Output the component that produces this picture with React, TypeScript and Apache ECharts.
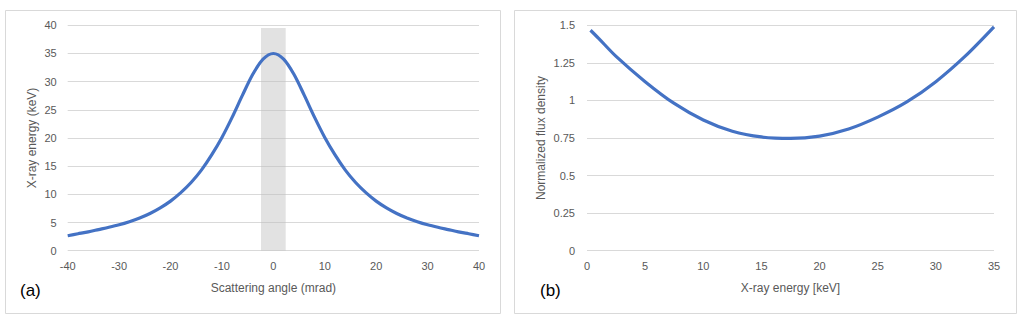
import React, { useEffect, useRef } from "react";
import * as echarts from "echarts";

// Panel (a): X-ray energy vs scattering angle
const angleMrad = [-40, -38, -36, -34, -32, -30, -28, -26, -24, -22, -20, -18, -16, -14, -12, -10, -8, -6, -4, -2, 0, 2, 4, 6, 8, 10, 12, 14, 16, 18, 20, 22, 24, 26, 28, 30, 32, 34, 36, 38, 40];
const energyKeV = [2.65, 3.0, 3.35, 3.75, 4.15, 4.6, 5.15, 5.8, 6.6, 7.6, 8.8, 10.3, 12.1, 14.3, 17.0, 20.1, 23.7, 27.6, 31.3, 34.0, 35, 34.0, 31.3, 27.6, 23.7, 20.1, 17.0, 14.3, 12.1, 10.3, 8.8, 7.6, 6.6, 5.8, 5.15, 4.6, 4.15, 3.75, 3.35, 3.0, 2.65];
const bandAngle = [-2.4, 2.4];
const bandTop = 39.5;

// Panel (b): normalized flux density vs X-ray energy
const energyB = [0.3, 1, 2.5, 5, 7.5, 10, 12.5, 15, 17.5, 20, 22.5, 25, 27.5, 30, 32.5, 35];
const fluxB = [1.467, 1.413, 1.293, 1.125, 0.98, 0.87, 0.795, 0.757, 0.747, 0.763, 0.81, 0.889, 0.99, 1.125, 1.293, 1.49];

const FONT = "'Liberation Sans', Arial, sans-serif";
const TXT = "#595959";
const GRIDC = "#d9d9d9";
const BLUE = "#4472C4";

export default function App() {
  const ref = useRef<HTMLDivElement>(null);
  useEffect(() => {
    if (!ref.current) return;
    const chart = echarts.init(ref.current, undefined, { renderer: "svg" });
    const axisLabel = { color: TXT, fontSize: 11, fontFamily: FONT };
    const nameStyle = { color: TXT, fontSize: 12, fontFamily: FONT };
    chart.setOption({
      animation: false,
      backgroundColor: "#fff",
      textStyle: { fontFamily: FONT },
      graphic: [
        { type: "rect", shape: { x: 5.5, y: 10.5, width: 495, height: 303 }, style: { fill: "none", stroke: GRIDC, lineWidth: 1 }, z: 0 },
        { type: "rect", shape: { x: 514.5, y: 10.5, width: 502, height: 303 }, style: { fill: "none", stroke: GRIDC, lineWidth: 1 }, z: 0 },
        { type: "text", left: 20, top: 282, style: { text: "(a)", fill: "#000", fontSize: 17, fontFamily: FONT } },
        { type: "text", left: 540, top: 282, style: { text: "(b)", fill: "#000", fontSize: 17, fontFamily: FONT } },
      ],
      grid: [
        { left: 67.7, top: 25.3, width: 411.3, height: 225.4 },
        { left: 587, top: 25.3, width: 407, height: 225.4 },
      ],
      xAxis: [
        {
          gridIndex: 0, type: "value", min: -40, max: 40, interval: 10,
          name: "Scattering angle (mrad)", nameLocation: "middle", nameGap: 31, nameTextStyle: nameStyle,
          axisLine: { show: false }, axisTick: { show: false }, splitLine: { show: false },
          axisLabel: { ...axisLabel, margin: 10 },
        },
        {
          gridIndex: 1, type: "value", min: 0, max: 35, interval: 5,
          name: "X-ray energy [keV]", nameLocation: "middle", nameGap: 31, nameTextStyle: nameStyle,
          axisLine: { show: false }, axisTick: { show: false }, splitLine: { show: false },
          axisLabel: { ...axisLabel, margin: 10 },
        },
      ],
      yAxis: [
        {
          gridIndex: 0, type: "value", min: 0, max: 40, interval: 5,
          name: "X-ray energy (keV)", nameLocation: "middle", nameGap: 30, nameTextStyle: nameStyle,
          axisLine: { show: false }, axisTick: { show: false },
          splitLine: { lineStyle: { color: GRIDC, width: 1 } },
          axisLabel: { ...axisLabel, margin: 11 },
        },
        {
          gridIndex: 1, type: "value", min: 0, max: 1.5, interval: 0.25,
          name: "Normalized flux density", nameLocation: "middle", nameGap: 40, nameTextStyle: nameStyle,
          axisLine: { show: false }, axisTick: { show: false },
          splitLine: { lineStyle: { color: GRIDC, width: 1 } },
          axisLabel: { ...axisLabel, margin: 12, formatter: (v: number) => String(v) },
        },
      ],
      series: [
        {
          type: "line", xAxisIndex: 0, yAxisIndex: 0, z: 2,
          data: angleMrad.map((a, i) => [a, energyKeV[i]]),
          smooth: 0.3, showSymbol: false, symbol: "none",
          lineStyle: { color: BLUE, width: 3.2 },
        },
        {
          type: "line", xAxisIndex: 0, yAxisIndex: 0, z: 5,
          data: [],
          markArea: {
            silent: true,
            itemStyle: { color: "rgba(190,190,190,0.45)" },
            data: [[{ xAxis: bandAngle[0], yAxis: 0 }, { xAxis: bandAngle[1], yAxis: bandTop }]],
          },
        },
        {
          type: "line", xAxisIndex: 1, yAxisIndex: 1, z: 2,
          data: energyB.map((e, i) => [e, fluxB[i]]),
          smooth: 0.3, showSymbol: false, symbol: "none",
          lineStyle: { color: BLUE, width: 3.2 },
        },
      ],
    });
    return () => chart.dispose();
  }, []);
  return <div ref={ref} style={{ position: "fixed", left: 0, top: 0, width: 1022, height: 319 }} />;
}
